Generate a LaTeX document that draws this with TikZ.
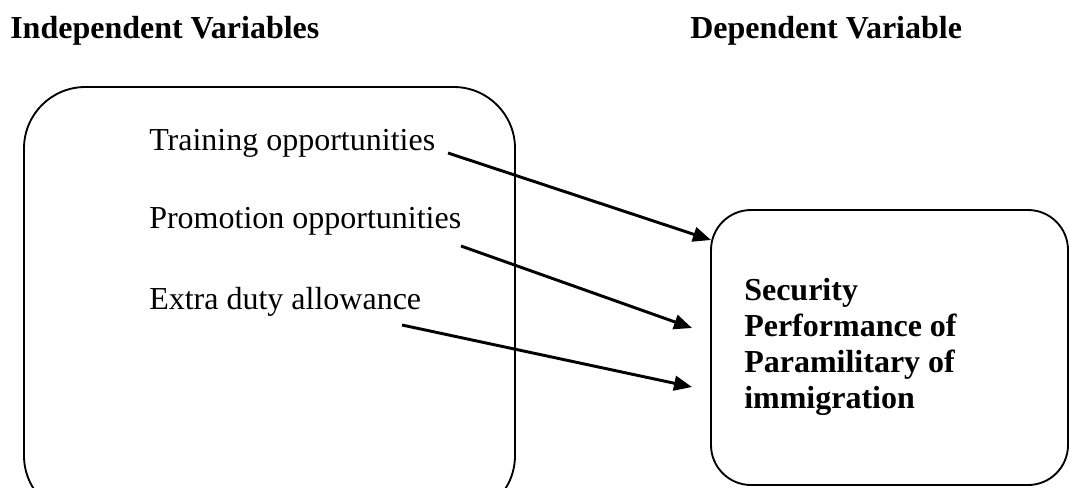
\documentclass[tikz,border=0pt]{standalone}
\usepackage{fontspec}
\setmainfont{Liberation Serif}
\usetikzlibrary{arrows.meta}
\tikzset{
  lbl/.style={anchor=base west, inner sep=0pt, font=\fontsize{24}{27}\selectfont},
  head/.style={lbl, font=\fontsize{24}{27}\selectfont\bfseries},
  box/.style={draw, line width=1.4pt},
  conn/.style={line width=2.2pt, -{Triangle[length=13.5pt,width=11pt]}}
}
\begin{document}
\begin{tikzpicture}[x=0.75pt,y=-0.75pt]
\useasboundingbox (0,0) rectangle (1070,487);
\clip (0,0) rectangle (1070,487);
\node[head] (ih) at (10,38) {Independent Variables};
\node[head] (dh) at (690,38) {Dependent Variable};
\draw[box, rounded corners=46pt] (24,87) rectangle (515,517);
\draw[box, rounded corners=30pt] (711,210) rectangle (1068,485);
\node[lbl] (t1) at (149,150) {Training opportunities};
\node[lbl] (t2) at (149,228) {Promotion opportunities};
\node[lbl] (t3) at (149,309) {Extra duty allowance};
\node[anchor=north west, inner sep=0pt, align=left, font=\fontsize{24}{27}\selectfont\bfseries] (dv) at (744,278)
  {Security\\Performance of\\Paramilitary of\\immigration};
\coordinate (s1) at (448,153);
\coordinate (e1) at (711,240);
\coordinate (s2) at (461,246);
\coordinate (e2) at (692,328);
\coordinate (s3) at (402,325);
\coordinate (e3) at (692,387);
\draw[conn] (s1) -- (e1);
\draw[conn] (s2) -- (e2);
\draw[conn] (s3) -- (e3);
\end{tikzpicture}
\end{document}
